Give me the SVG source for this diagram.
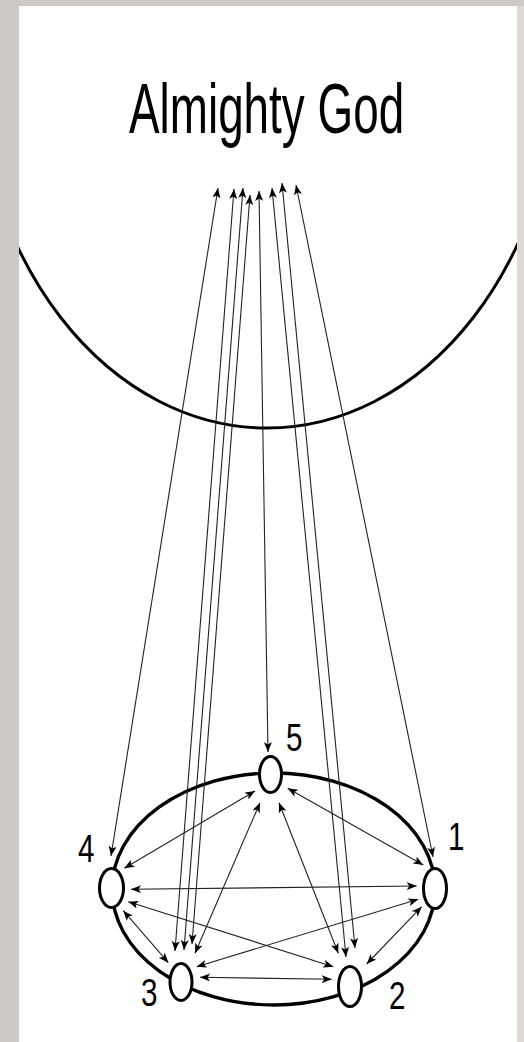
<svg xmlns="http://www.w3.org/2000/svg" width="524" height="1042" viewBox="0 0 524 1042">
<style>
.bg{fill:#cdc9c6}
.panel{fill:#ffffff}
.arc{fill:none;stroke:#000;stroke-width:3}
.ring{fill:none;stroke:#000;stroke-width:3.4}
.node{fill:#fff;stroke:#000;stroke-width:3}
.ln{stroke:#222;stroke-width:1.1;fill:none;marker-start:url(#ah);marker-end:url(#ah)}
.title{font-family:"Liberation Sans",Arial,sans-serif;font-size:70px;fill:#000}
.lbl{font-family:"Liberation Sans",Arial,sans-serif;font-size:38px;fill:#000}
</style>
<defs>
<marker id="ah" viewBox="0 0 10 8" refX="10" refY="4" markerWidth="10" markerHeight="8" markerUnits="userSpaceOnUse" orient="auto-start-reverse">
<path d="M0,0 L10,4 L0,8 L2.5,4 z" fill="#000"/>
</marker>
<clipPath id="pc"><rect x="19" y="6" width="498" height="1036"/></clipPath>
</defs>
<rect class="bg" x="0" y="0" width="524" height="1042"/>
<rect class="panel" x="19" y="6" width="498" height="1036"/>
<rect x="517" y="6" width="7" height="1036" fill="#dcd8d6"/>
<g id="heaven">
<ellipse class="arc" cx="267" cy="50" rx="292" ry="378" clip-path="url(#pc)"/>
<text class="title" transform="translate(129,133) scale(0.655,1)">Almighty God</text>
</g>
<g id="ring">
<ellipse class="ring" cx="273.5" cy="889" rx="161.5" ry="116"/>
</g>
<g id="connectors">
<line class="ln" x1="218" y1="188" x2="111" y2="856"/>
<line class="ln" x1="234" y1="189" x2="175" y2="951"/>
<line class="ln" x1="243" y1="188" x2="184" y2="950"/>
<line class="ln" x1="250" y1="195" x2="192" y2="944"/>
<line class="ln" x1="259" y1="191" x2="268" y2="752"/>
<line class="ln" x1="272" y1="188" x2="346" y2="957"/>
<line class="ln" x1="282" y1="183" x2="355" y2="948"/>
<line class="ln" x1="296" y1="185" x2="433" y2="857"/>
<line class="ln" x1="255" y1="791" x2="124.3" y2="868.3"/>
<line class="ln" x1="287.7" y1="788.3" x2="423.3" y2="865"/>
<line class="ln" x1="260" y1="802.7" x2="195" y2="953.3"/>
<line class="ln" x1="279" y1="802.7" x2="338.3" y2="953.3"/>
<line class="ln" x1="131" y1="889.3" x2="416.7" y2="886"/>
<line class="ln" x1="128.3" y1="901.7" x2="333.3" y2="966.7"/>
<line class="ln" x1="123.3" y1="910.7" x2="168.3" y2="962.7"/>
<line class="ln" x1="418.3" y1="899.3" x2="196.7" y2="966.7"/>
<line class="ln" x1="421.7" y1="906.7" x2="366.7" y2="964"/>
<line class="ln" x1="200" y1="977.3" x2="331.7" y2="979.3"/>
</g>
<g id="n5">
<ellipse class="node" cx="270.5" cy="774.5" rx="11" ry="18"/>
<text class="lbl" transform="translate(286,751) scale(0.78,1)">5</text>
</g>
<g id="n4">
<ellipse class="node" cx="111.5" cy="888" rx="12" ry="19.5"/>
<text class="lbl" transform="translate(78,862) scale(0.78,1)">4</text>
</g>
<g id="n1">
<ellipse class="node" cx="435" cy="888.5" rx="11.5" ry="20"/>
<text class="lbl" transform="translate(448,850) scale(0.78,1)">1</text>
</g>
<g id="n3">
<ellipse class="node" cx="181" cy="982" rx="11" ry="18.5"/>
<text class="lbl" transform="translate(141,1006) scale(0.78,1)">3</text>
</g>
<g id="n2">
<ellipse class="node" cx="350" cy="986.5" rx="11.5" ry="20"/>
<text class="lbl" transform="translate(389,1009) scale(0.78,1)">2</text>
</g>
</svg>
